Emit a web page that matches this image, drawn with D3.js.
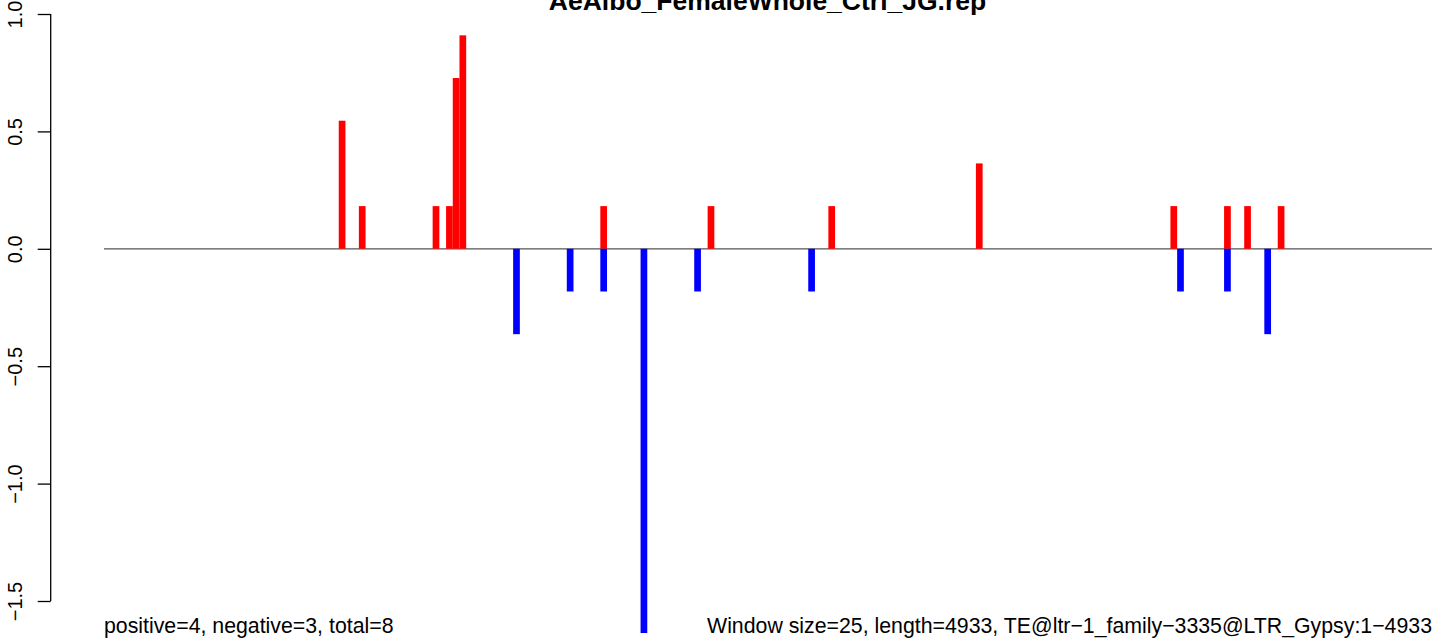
<!DOCTYPE html>
<html>
<head>
<meta charset="utf-8">
<script src="https://cdn.jsdelivr.net/npm/d3@7"></script>
<style>
  html, body { margin: 0; padding: 0; background: #fff; }
  svg text { font-family: "Liberation Sans", Arial, Helvetica, sans-serif; }
</style>
</head>
<body>
<svg id="chart" width="1444" height="644"></svg>
<script>
// ---- data ----
const title = "AeAlbo_FemaleWhole_Ctrl_JG.rep";
const windowSize = 25;
const seqLength = 4933;
const nWindows = 198;
// window start positions (bp) and values of positive windows
const posStarts = [875, 950, 1225, 1275, 1300, 1325, 1850, 2250, 2700, 3250, 3975, 4175, 4250, 4375];
const posValues = [0.5455, 0.1818, 0.1818, 0.1818, 0.7273, 0.9091, 0.1818, 0.1818, 0.1818, 0.3636, 0.1818, 0.1818, 0.1818, 0.1818];
// window start positions (bp) and values of negative windows
const negStarts = [1525, 1725, 1850, 2000, 2200, 2625, 4000, 4175, 4325];
const negValues = [-0.3636, -0.1818, -0.1818, -1.6364, -0.1818, -0.1818, -0.1818, -0.1818, -0.3636];
const yTicks = [1.0, 0.5, 0.0, -0.5, -1.0, -1.5];
const leftNote = "positive=4, negative=3, total=8";
const rightNote = "Window size=25, length=4933, TE@ltr\u22121_family\u22123335@LTR_Gypsy:1\u22124933";

// ---- scales ----
const svg = d3.select("#chart");
const x = d3.scaleLinear().domain([0, nWindows * windowSize]).range([104, 1432]);
const y = d3.scaleLinear().domain([1.0, -1.5]).range([14, 601]);

// baseline
svg.append("line")
  .attr("x1", x(0)).attr("x2", x(nWindows * windowSize))
  .attr("y1", y(0)).attr("y2", y(0))
  .attr("stroke", "#555").attr("stroke-width", 1.2);

// positive bars
svg.append("g").selectAll("rect")
  .data(posStarts.map((s, i) => ({ s, v: posValues[i] })))
  .join("rect")
  .attr("x", d => x(d.s))
  .attr("width", d => x(d.s + windowSize) - x(d.s))
  .attr("y", d => y(d.v))
  .attr("height", d => y(0) - y(d.v))
  .attr("fill", "#ff0000");

// negative bars
svg.append("g").selectAll("rect")
  .data(negStarts.map((s, i) => ({ s, v: negValues[i] })))
  .join("rect")
  .attr("x", d => x(d.s))
  .attr("width", d => x(d.s + windowSize) - x(d.s))
  .attr("y", y(0))
  .attr("height", d => y(d.v) - y(0))
  .attr("fill", "#0000ff");

// y axis
const axisX = 50.7;
const yAxis = d3.axisLeft(y).tickValues(yTicks).tickSize(13).tickPadding(0)
  .tickFormat(d3.format(".1f"));
const ga = svg.append("g").attr("transform", `translate(${axisX},0)`).call(yAxis);
ga.select(".domain").attr("d", `M0,${y(1.0)}V${y(-1.5)}`).attr("stroke", "#000").attr("stroke-width", 1.3);
ga.selectAll(".tick line").attr("stroke", "#000").attr("stroke-width", 1.3);
ga.selectAll(".tick text")
  .attr("font-size", 20)
  .attr("fill", "#000")
  .attr("text-anchor", "middle")
  .attr("dy", null)
  .attr("x", null)
  .attr("transform", "translate(-28.7,0) rotate(-90)");

// title
svg.append("text")
  .attr("x", 767.5).attr("y", 9.5)
  .attr("text-anchor", "middle")
  .attr("font-size", 26.5).attr("font-weight", "bold")
  .text(title);

// notes
svg.append("text").attr("x", 104).attr("y", 633)
  .attr("font-size", 21.3).text(leftNote);
svg.append("text").attr("x", 1432).attr("y", 633)
  .attr("text-anchor", "end").attr("font-size", 21.3).text(rightNote);
</script>
</body>
</html>
